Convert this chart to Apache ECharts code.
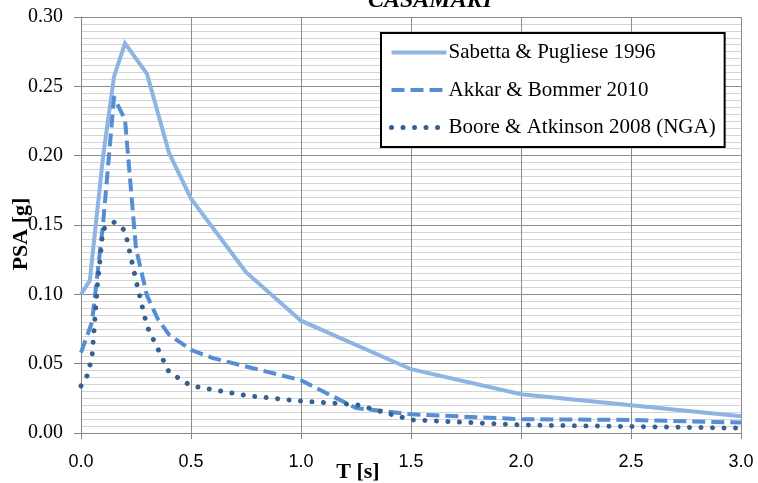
<!DOCTYPE html>
<html>
<head>
<meta charset="utf-8">
<script src="https://cdn.jsdelivr.net/npm/echarts@6/dist/echarts.min.js"></script>
<style>
html,body{margin:0;padding:0;background:#fff;}
#chart{width:758px;height:483px;}
</style>
</head>
<body>
<div id="chart"></div>
<script>
// ---- data ----
var chartTitle = 'CASAMARI';
var xAxisName = 'T [s]';
var yAxisName = 'PSA [g]';
var seriesNames = ['Sabetta & Pugliese 1996', 'Akkar & Bommer 2010', 'Boore & Atkinson 2008 (NGA)'];

var sabettaT   = [0, 0.04, 0.1, 0.15, 0.2, 0.3, 0.4, 0.5, 0.75, 1.0, 1.5, 2.0, 2.5, 3.0];
var sabettaPSA = [0.100, 0.110, 0.199, 0.257, 0.281, 0.259, 0.202, 0.169, 0.116, 0.081, 0.046, 0.028, 0.020, 0.012];

var akkarT   = [0, 0.05, 0.1, 0.15, 0.2, 0.25, 0.3, 0.35, 0.4, 0.5, 0.6, 0.75, 1.0, 1.25, 1.5, 2.0, 2.5, 3.0];
var akkarPSA = [0.058, 0.080, 0.150, 0.242, 0.226, 0.133, 0.099, 0.082, 0.071, 0.060, 0.054, 0.048, 0.038, 0.018, 0.0135, 0.0100, 0.0094, 0.0075];

var booreT   = [0, 0.02, 0.03, 0.05, 0.075, 0.1, 0.15, 0.2, 0.25, 0.3, 0.4, 0.5, 0.75, 1.0, 1.25, 1.5, 2.0, 3.0];
var boorePSA = [0.034, 0.039, 0.042, 0.055, 0.107, 0.147, 0.152, 0.146, 0.110, 0.077, 0.044, 0.034, 0.027, 0.023, 0.0205, 0.0095, 0.0058, 0.0035];

var xTicks = {min: 0, max: 3, step: 0.5};
var yTicks = {min: 0, max: 0.30, step: 0.05};

function pairs(xs, ys) { return xs.map(function (x, i) { return [x, ys[i]]; }); }

var serif = '"Liberation Serif", "Times New Roman", serif';
var sans = '"Liberation Sans", Arial, sans-serif';

var chart = echarts.init(document.getElementById('chart'), null, {renderer: 'canvas'});
chart.setOption({
  animation: false,
  backgroundColor: '#ffffff',
  title: {
    text: chartTitle,
    left: 368,
    top: -11,
    padding: 0,
    textStyle: {fontFamily: serif, fontStyle: 'italic', fontWeight: 'bold', fontSize: 24, color: '#000'}
  },
  grid: {left: 81, right: 17, top: 17, bottom: 50, containLabel: false, outerBoundsMode: 'none'},
  legend: {
    orient: 'vertical',
    left: 381,
    top: 33,
    backgroundColor: '#ffffff',
    borderColor: '#000000',
    borderWidth: 2,
    padding: [9, 9, 9, 8],
    itemWidth: 55,
    itemHeight: 20,
    itemGap: 16.5,
    itemStyle: {opacity: 0},
    lineStyle: {width: 'inherit'},
    textStyle: {fontFamily: serif, fontSize: 21, color: '#000', lineHeight: 21, padding: [0, 0, 0, -3]},
    data: seriesNames
  },
  xAxis: {
    type: 'value',
    min: xTicks.min, max: xTicks.max, interval: xTicks.step,
    name: xAxisName,
    nameLocation: 'middle',
    nameGap: 28,
    nameMoveOverlap: false,
    nameTextStyle: {fontFamily: serif, fontWeight: 'bold', fontSize: 22, color: '#000', padding: [0, 106, 0, 0]},
    axisLine: {show: true, lineStyle: {color: '#868686', width: 1}},
    axisTick: {show: true, length: 6, lineStyle: {color: '#868686'}},
    axisLabel: {margin: 20, fontFamily: sans, fontSize: 18, color: '#000', formatter: function (v) { return v.toFixed(1); }},
    splitLine: {show: true, lineStyle: {color: '#8c8c8c', width: 1}}
  },
  yAxis: {
    type: 'value',
    min: yTicks.min, max: yTicks.max, interval: yTicks.step,
    name: yAxisName,
    nameLocation: 'middle',
    nameRotate: 90,
    nameGap: 49,
    nameMoveOverlap: false,
    nameTextStyle: {fontFamily: serif, fontWeight: 'bold', fontSize: 22, color: '#000', padding: [0, 18, 0, 0]},
    axisLine: {show: true, lineStyle: {color: '#868686', width: 1}},
    axisTick: {show: true, length: 7, lineStyle: {color: '#868686'}},
    axisLabel: {margin: 18, fontFamily: serif, fontSize: 20, color: '#000', formatter: function (v) { return v.toFixed(2); }},
    splitLine: {show: true, lineStyle: {color: '#8c8c8c', width: 1}},
    minorTick: {show: false, splitNumber: 10},
    minorSplitLine: {show: true, lineStyle: {color: '#d4d4d4', width: 1}}
  },
  series: [
    {
      name: seriesNames[0], type: 'line', data: pairs(sabettaT, sabettaPSA),
      symbol: 'none', smooth: false, z: 3,
      lineStyle: {color: '#8db4e2', width: 4, type: 'solid', cap: 'butt', join: 'miter'},
      itemStyle: {color: '#8db4e2'}
    },
    {
      name: seriesNames[1], type: 'line', data: pairs(akkarT, akkarPSA),
      symbol: 'none', smooth: false, z: 4,
      lineStyle: {color: '#558ed5', width: 4, type: [13, 6], cap: 'butt', join: 'round'},
      itemStyle: {color: '#558ed5'}
    },
    {
      name: seriesNames[2], type: 'line', data: pairs(booreT, boorePSA),
      symbol: 'none', smooth: false, z: 5,
      lineStyle: {color: '#376092', width: 5, type: [0.01, 11.5], cap: 'round', join: 'round'},
      itemStyle: {color: '#376092'}
    }
  ]
});
</script>
</body>
</html>
